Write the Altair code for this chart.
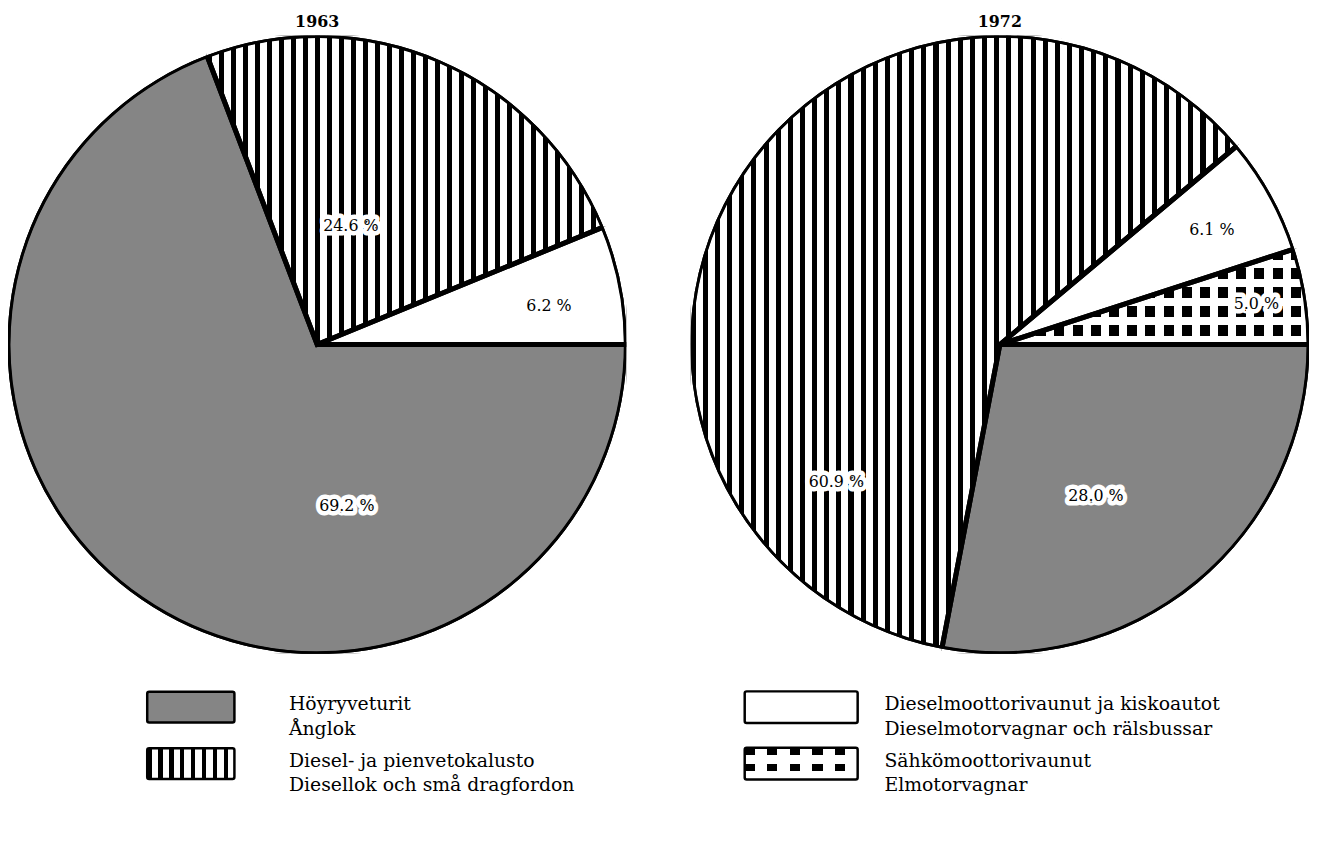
import math
import pandas as pd
import altair as alt

PI = math.pi

# ---------------- data ----------------
years = ["1963", "1972"]
# categories in counter-clockwise order starting at 3 o'clock
cat_keys = ["electric", "railcar", "diesel", "steam"]
values_1963 = [0.0, 6.2, 24.6, 69.2]
values_1972 = [5.0, 6.1, 60.9, 28.0]

# label placement (position along the pie in % units, radius as fraction of R)
label_at_1963 = [0.0, 2.6, 20.6, 77.9]
label_rf_1963 = [0.0, 0.76, 0.40, 0.53]
label_at_1972 = [2.5, 7.9, 61.1, 84.0]
label_rf_1972 = [0.84, 0.78, 0.69, 0.58]

legend_keys = ["steam", "diesel", "railcar", "electric"]
legend_text = [
    "Höyryveturit\nÅnglok",
    "Diesel- ja pienvetokalusto\nDiesellok och små dragfordon",
    "Dieselmoottorivaunut ja kiskoautot\nDieselmotorvagnar och rälsbussar",
    "Sähkömoottorivaunut\nElmotorvagnar",
]
legend_col = [0, 0, 1, 1]
legend_row = [0, 1, 0, 1]

FONT = "DejaVu Serif"
R1, R2 = 312, 312

rows = []
for year, vals, lat, lrf, R in [
    ("1963", values_1963, label_at_1963, label_rf_1963, R1),
    ("1972", values_1972, label_at_1972, label_rf_1972, R2),
]:
    for i, (k, v) in enumerate(zip(cat_keys, vals)):
        if v <= 0:
            continue
        rows.append(dict(year=year, cat=k, order=i, value=v,
                         lab=f"{v:.1f} %", lt=lat[i], lr=lrf[i] * R))
df = pd.DataFrame(rows)

leg_df = pd.DataFrame(dict(cat=legend_keys, text=legend_text,
                           col=legend_col, row=legend_row))


# ---------------- pattern helpers (gradients) ----------------
def stripes(n, dark_frac, direction, dark="black", light="white"):
    stops = []
    for k in range(n):
        a = k / n
        b = (k + dark_frac) / n
        c = (k + 1) / n
        stops += [
            {"offset": round(a, 5), "color": dark},
            {"offset": round(b, 5), "color": dark},
            {"offset": round(b, 5), "color": light},
            {"offset": round(c, 5), "color": light},
        ]
    g = {"gradient": "linear", "stops": stops}
    if direction == "x":
        g.update(x1=0, y1=0, x2=1, y2=0)
    else:
        g.update(x1=0, y1=0, x2=0, y2=1)
    return g


CLEAR = "rgba(255,255,255,0)"
STEAM = "#858585"


def make_pie(year, R, n_diesel):
    theta_scale = alt.Scale(domain=[0, 100], range=[2.5 * PI, 0.5 * PI])
    th = alt.Theta("start:Q", scale=theta_scale)
    th2 = alt.Theta2("cum:Q")
    base = (
        alt.Chart(df)
        .transform_filter(alt.datum.year == year)
        .transform_window(cum="sum(value)", sort=[alt.SortField("order")],
                          frame=[None, 0])
        .transform_calculate(start="datum.cum - datum.value")
    )
    fills = {
        "steam": STEAM,
        "railcar": "white",
        "diesel": stripes(n_diesel, 0.42, "x"),
        "electric": stripes(17, 0.55, "x"),
    }
    present = df[df.year == year].cat.tolist()
    layers = []
    for k in present:
        layers.append(
            base.transform_filter(alt.datum.cat == k)
            .mark_arc(radius=R, fill=fills[k], strokeWidth=0, clip=True)
            .encode(theta=th, theta2=th2)
        )
    if "electric" in present:
        layers.append(
            base.transform_filter(alt.datum.cat == "electric")
            .mark_arc(radius=R, fill=stripes(5, 0.55, "y", dark=CLEAR, light="white"),
                      strokeWidth=0, clip=True)
            .encode(theta=th, theta2=th2)
        )
    layers.append(
        base.mark_arc(radius=R, fillOpacity=0, stroke="black", strokeWidth=5, clip=True)
        .encode(theta=th, theta2=th2)
    )
    layers.append(
        base.mark_arc(radius=R + 3.5, radius2=R + 0.5, fill="white", strokeWidth=0,
                      clip=True)
        .encode(theta=th, theta2=th2)
    )
    layers.append(
        base.mark_arc(radius=R + 0.5, radius2=R - 2, fill="black", strokeWidth=0,
                      clip=True)
        .encode(theta=th, theta2=th2)
    )
    tl = alt.Theta("lt:Q", scale=theta_scale)
    rl = alt.Radius("lr:Q", scale=None)
    layers.append(
        base.mark_text(font=FONT, fontSize=16, fill="white", stroke="white",
                       strokeWidth=9, strokeJoin="round")
        .encode(theta=tl, radius=rl, text="lab:N")
    )
    layers.append(
        base.mark_text(font=FONT, fontSize=16, fill="black")
        .encode(theta=tl, radius=rl, text="lab:N")
    )
    return alt.layer(*layers).properties(
        width=2 * R, height=2 * R,
        title=alt.TitleParams(year, font=FONT, fontSize=16, fontWeight="bold",
                              offset=6, color="black"),
    )


pie1 = make_pie("1963", R1, 33)
pie2 = make_pie("1972", R2, 45)

# ---------------- legend ----------------
xs = alt.X("col:Q", scale=alt.Scale(domain=[0, 1], range=[184.5, 800.5]), axis=None)
ys = alt.Y("row:Q", scale=alt.Scale(domain=[0, 1], range=[46, 103]), axis=None)
lbase = alt.Chart(leg_df)

sw_fill = {
    "steam": STEAM,
    "diesel": stripes(8, 0.42, "x"),
    "railcar": "white",
    "electric": stripes(5, 0.45, "x"),
}
sw_size = {"steam": (88, 31), "diesel": (88, 31), "railcar": (114, 32), "electric": (114, 32)}
txt_dx = {"steam": 99, "diesel": 99, "railcar": 84, "electric": 84}

leg_layers = []
for k in legend_keys:
    w, h = sw_size[k]
    sub = lbase.transform_filter(alt.datum.cat == k)
    if k == "electric":
        leg_layers.append(sub.mark_rect(width=w, height=h, fill=sw_fill[k])
                          .encode(x=xs, y=ys))
        leg_layers.append(sub.mark_rect(width=w, height=h,
                                        fill=stripes(2, 0.45, "y", dark=CLEAR, light="white"),
                                        stroke="black", strokeWidth=2.5, cornerRadius=2)
                          .encode(x=xs, y=ys))
    else:
        leg_layers.append(sub.mark_rect(width=w, height=h, fill=sw_fill[k],
                                        stroke="black", strokeWidth=2.5, cornerRadius=2)
                          .encode(x=xs, y=ys))
    leg_layers.append(
        sub.mark_text(font=FONT, fontSize=19, align="left", baseline="top",
                      dx=txt_dx[k], dy=-12, lineBreak="\n", lineHeight=25, color="black")
        .encode(x=xs, y=ys, text="text:N")
    )
legend = alt.layer(*leg_layers).properties(width=1299, height=140)

top = alt.hconcat(pie1, pie2, spacing=65, bounds="flush")
chart = (
    alt.vconcat(top, legend, spacing=8)
    .properties(padding={"left": 0, "top": 2, "right": 0, "bottom": 0})
    .configure_view(stroke=None)
)

chart.save("out.html", embed_options={"renderer": "svg", "actions": False})
